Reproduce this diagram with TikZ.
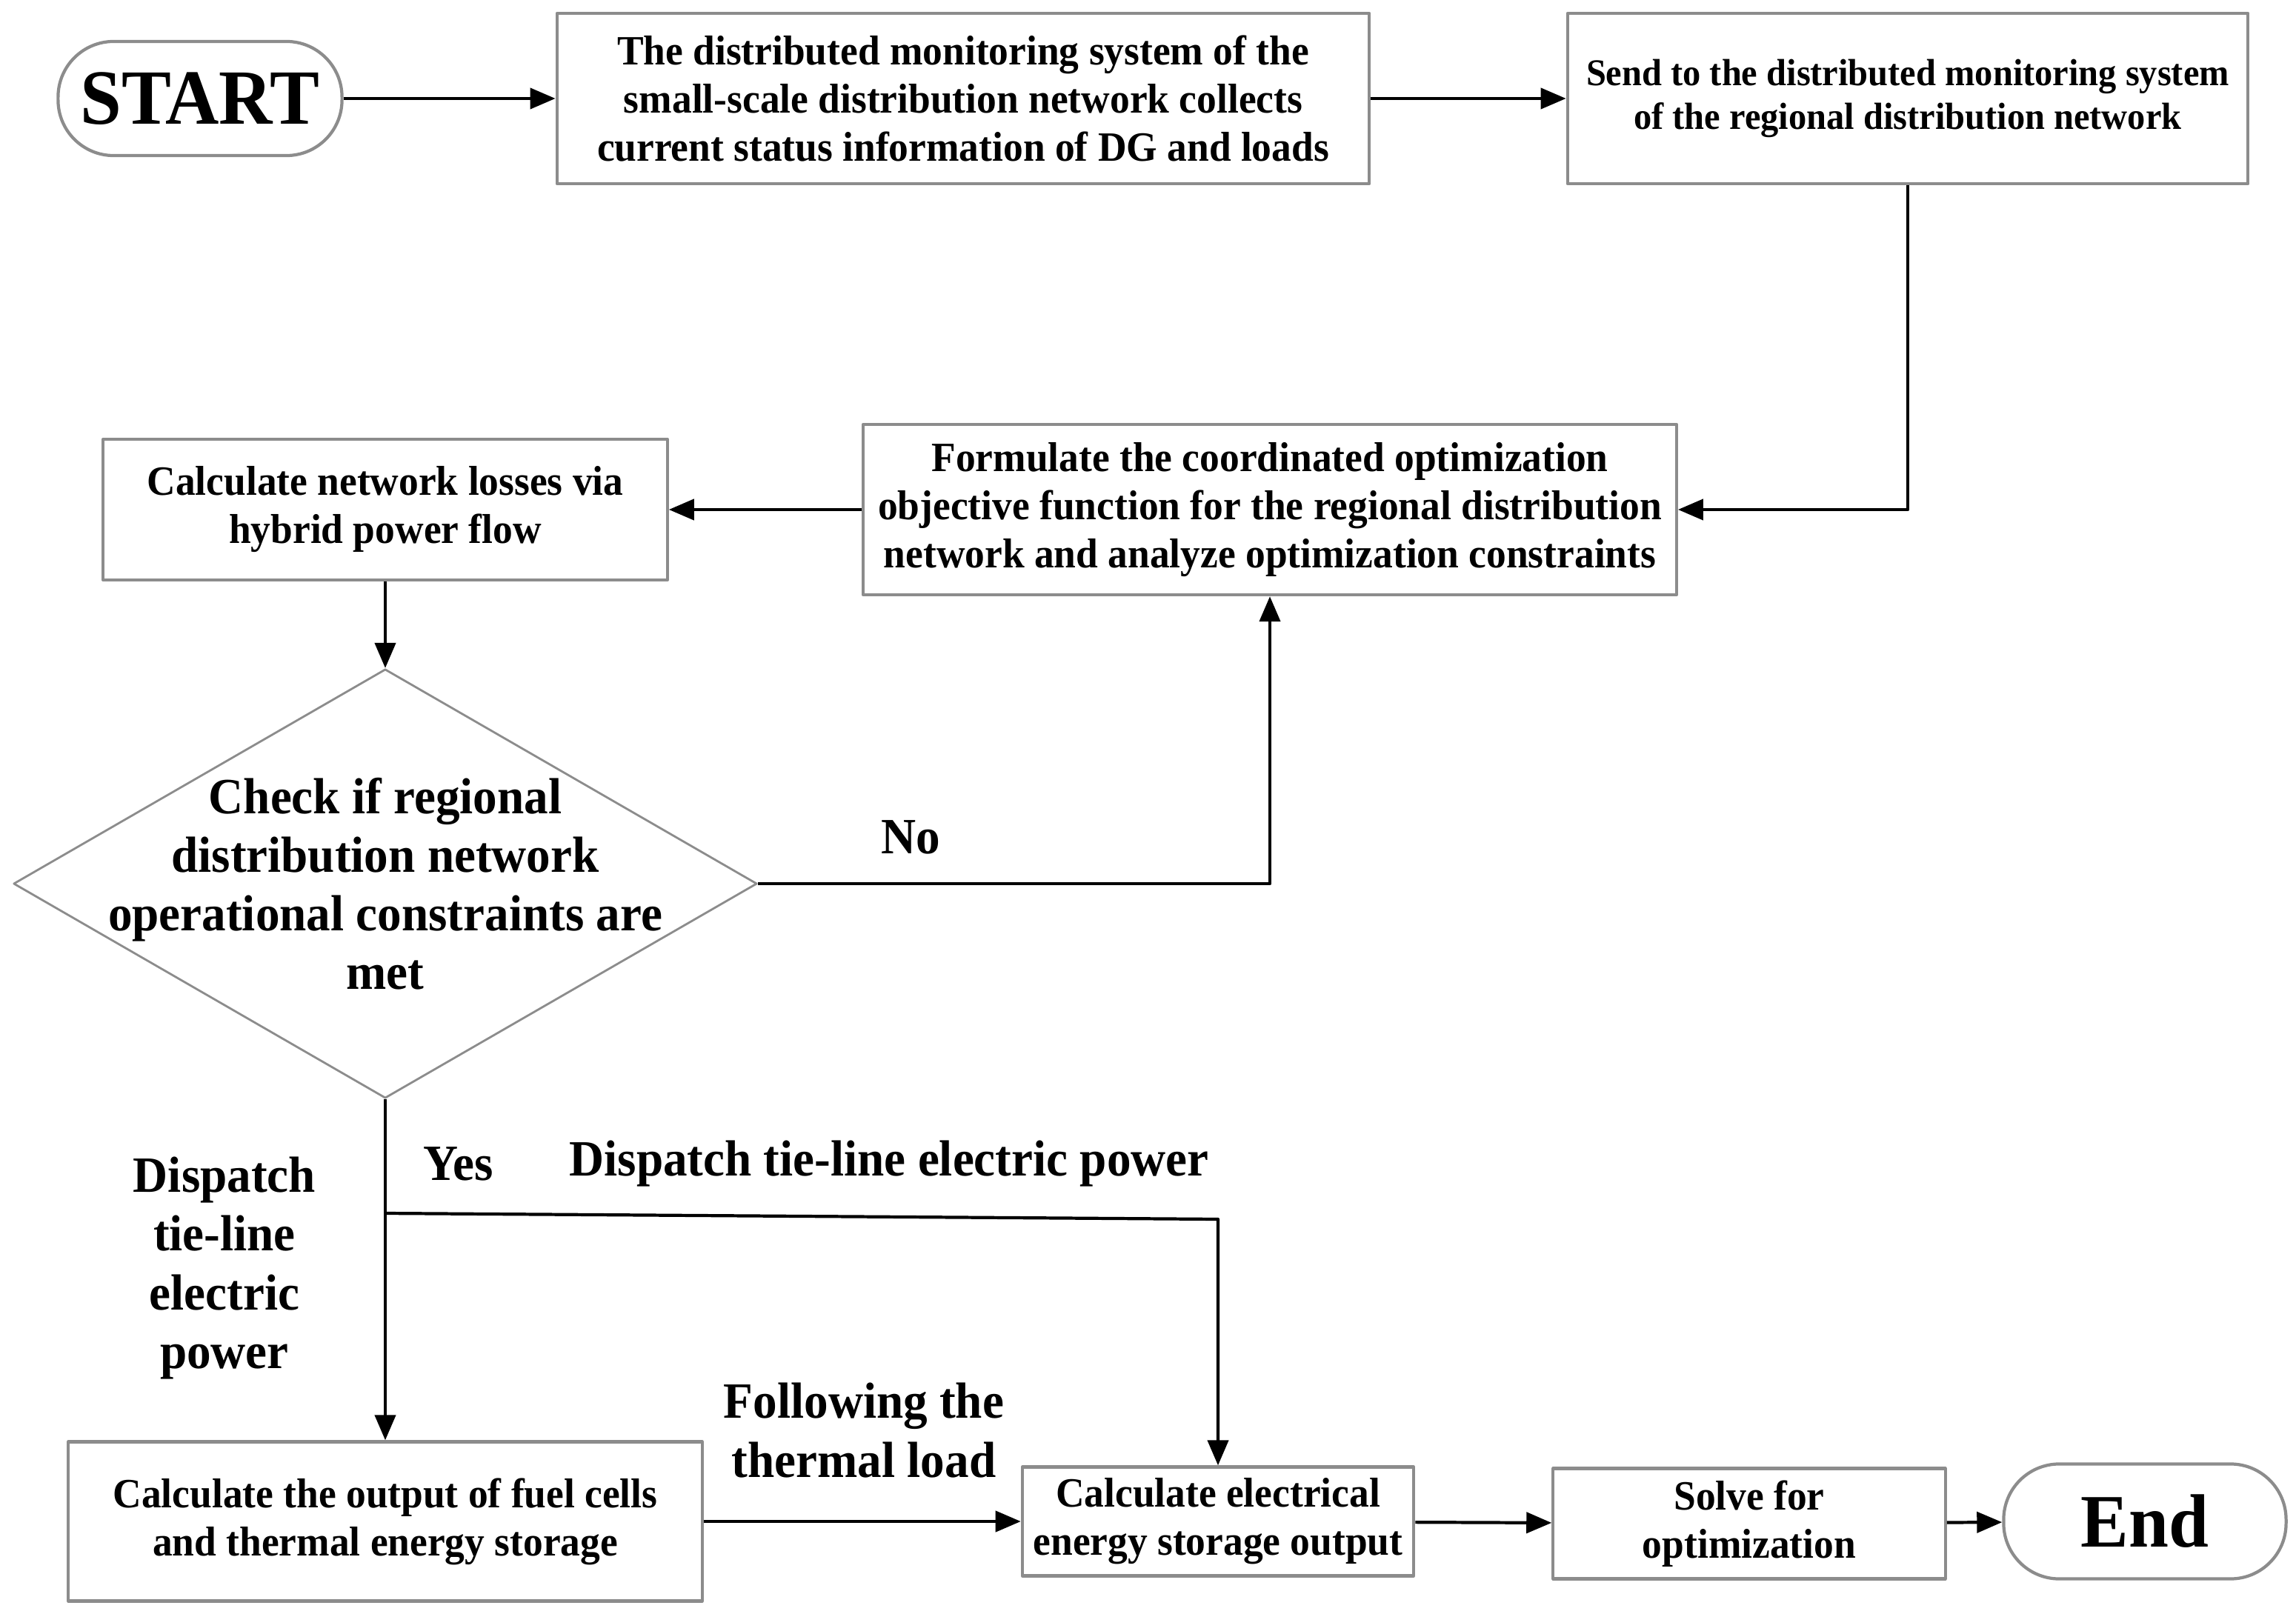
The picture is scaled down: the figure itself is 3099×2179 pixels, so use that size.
\documentclass[tikz,border=0pt]{standalone}
\usepackage{fontspec}
\setmainfont[FakeStretch=0.95]{Liberation Serif}
\usetikzlibrary{shapes.geometric,arrows.meta}
\tikzset{
  stepbox/.style={draw=black!45, line width=1.2pt, align=center, inner sep=2pt,
    font=\fontsize{16}{18.5}\selectfont\bfseries},
  termbox/.style={stepbox, rounded corners=0.75cm,
    font=\fontsize{30}{34}\selectfont\bfseries},
  decision/.style={diamond, draw=black!45, line width=0.8pt,
    minimum width=10.03cm, minimum height=5.79cm},
  note/.style={align=center, font=\fontsize{19.5}{22.5}\selectfont\bfseries},
  flow/.style={->, line width=1.2pt},
}
\begin{document}
\begin{tikzpicture}[x=0.01cm, y=-0.01cm, line join=round,
    >={Stealth[length=3.4mm, width=2.8mm, inset=0pt]}]
  \useasboundingbox (0,0) rectangle (3099,2179);
  % top row
  \node[termbox, minimum width=3.83cm, minimum height=1.54cm] (start) at (270,133) {START};
  \node[stepbox, minimum width=10.96cm, minimum height=2.30cm] (collect) at (1300,133)
    {The distributed monitoring system of the\\small-scale distribution network collects\\current status information of DG and loads};
  \node[stepbox, minimum width=9.18cm, minimum height=2.30cm,
    font=\fontsize{14.5}{17}\selectfont\bfseries] (send) at (2575,133)
    {Send to the distributed monitoring system\\of the regional distribution network};
  % middle
  \node[stepbox, minimum width=10.97cm, minimum height=2.30cm] (formulate) at (1714,688)
    {Formulate the coordinated optimization\\objective function for the regional distribution\\network and analyze optimization constraints};
  \node[stepbox, minimum width=7.61cm, minimum height=1.90cm] (losses) at (520,688)
    {Calculate network losses via\\hybrid power flow};
  \node[decision] (check) at (520,1193) {};
  \node[note] (checktext) at (check.center)
    {Check if regional\\distribution network\\operational constraints are\\met};
  % bottom row
  \node[stepbox, minimum width=8.55cm, minimum height=2.15cm] (fuel) at (520,2054)
    {Calculate the output of fuel cells\\and thermal energy storage};
  \node[stepbox, minimum width=5.28cm, minimum height=1.47cm] (storage) at (1644,2054)
    {Calculate electrical\\energy storage output};
  \node[stepbox, minimum width=5.29cm, minimum height=1.49cm] (solve) at (2361,2057)
    {Solve for\\optimization};
  \node[termbox, minimum width=3.81cm, minimum height=1.55cm,
    font=\fontsize{29}{34}\selectfont\bfseries] (finish) at (2895,2054) {End};
  \coordinate (split) at (520,1638);
  \coordinate (bend) at (1644,1646);
  % labels
  \node[note] (no) at (1229,1130) {No};
  \node[note] (yes) at (619,1571) {Yes};
  \node[note] (tieright) at (1200,1571) {Dispatch tie-line electric power};
  \node[note] (tieleft) at (303,1712) {Dispatch\\tie-line\\electric\\power};
  \node[note] (thermal) at (1166,1931) {Following the\\thermal load};
  % connectors
  \foreach \a/\b in {start/collect, collect/send, formulate/losses, losses/check,
      fuel/storage, storage/solve, solve/finish}
    \draw[flow] (\a) -- (\b);
  \draw[flow] (send.south) |- (formulate.east);
  \draw[flow] (check.east) -| (formulate.south);
  \draw[line width=1.2pt] (check.south) -- (split);
  \draw[flow] (split) -- (fuel.north);
  \draw[flow] (split) -- (bend) -- (storage.north);
\end{tikzpicture}
\end{document}
